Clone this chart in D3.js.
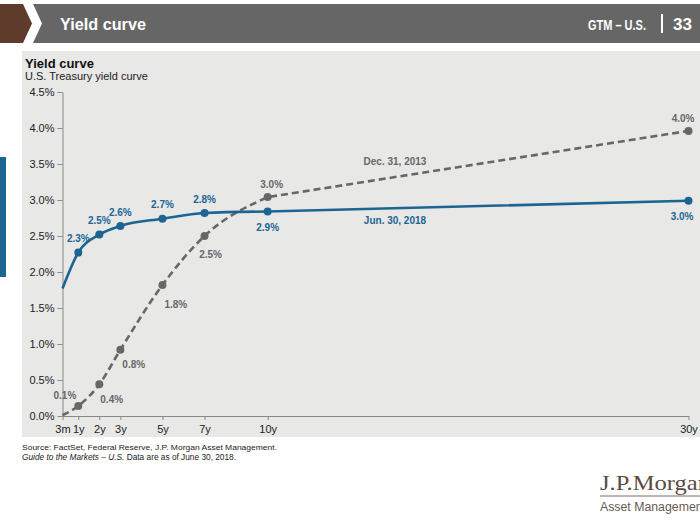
<!DOCTYPE html>
<html><head><meta charset="utf-8">
<script src="https://cdn.jsdelivr.net/npm/d3@7"></script>
<style>
html,body{margin:0;padding:0;background:#fff;}
svg{display:block;font-family:Arial,"Liberation Sans",sans-serif;}
</style></head>
<body><svg id="c" width="700" height="525"></svg>
<script>
const maturities = [0.25, 1, 2, 3, 5, 7, 10, 30];
const tickLabels = ["3m", "1y", "2y", "3y", "5y", "7y", "10y", "30y"];
const yTicks = [0, 0.5, 1.0, 1.5, 2.0, 2.5, 3.0, 3.5, 4.0, 4.5];
const jun2018 = [1.77, 2.27, 2.52, 2.64, 2.74, 2.82, 2.84, 2.99];
const jun2018Labels = [null, "2.3%", "2.5%", "2.6%", "2.7%", "2.8%", "2.9%", "3.0%"];
const dec2013 = [0.01, 0.14, 0.44, 0.92, 1.82, 2.50, 3.04, 3.96];
const dec2013Labels = [null, "0.1%", "0.4%", "0.8%", "1.8%", "2.5%", "3.0%", "4.0%"];

const svg = d3.select("#c");
const BLUE = "#1c6592", GRAY = "#676767";

// header
svg.append("rect").attr("x",0).attr("y",0).attr("width",700).attr("height",525).attr("fill","#fff");
svg.append("path").attr("d","M0,4 L23,4 L32,23.5 L23,43 L0,43 Z").attr("fill","#5e3b2b");
svg.append("path").attr("d","M33,4 L700,4 L700,43 L33,43 L42,23.5 Z").attr("fill","#666666");
svg.append("text").attr("x",60).attr("y",29.5).attr("fill","#fff")
  .attr("font-size",17).attr("font-weight","bold")
  .attr("textLength",86).attr("lengthAdjust","spacingAndGlyphs").text("Yield curve");
svg.append("text").attr("x",588).attr("y",29.5).attr("fill","#fff")
  .attr("font-size",14).attr("font-weight","bold")
  .attr("textLength",58).attr("lengthAdjust","spacingAndGlyphs").text("GTM \u2013 U.S.");
svg.append("rect").attr("x",661).attr("y",14).attr("width",2).attr("height",19).attr("fill","#fff");
svg.append("text").attr("x",692).attr("y",29.5).attr("fill","#fff").attr("text-anchor","end")
  .attr("font-size",17).attr("font-weight","bold")
  .attr("textLength",19).attr("lengthAdjust","spacingAndGlyphs").text("33");

// panel
svg.append("rect").attr("x",22).attr("y",51).attr("width",678).attr("height",386).attr("fill","#e8e8e7");
svg.append("rect").attr("x",0).attr("y",157).attr("width",6).attr("height",120).attr("fill","#1c6592");
svg.append("text").attr("x",25).attr("y",68).attr("font-size",13).attr("font-weight","bold").attr("fill","#111").text("Yield curve");
svg.append("text").attr("x",25).attr("y",80).attr("font-size",11).attr("fill","#222").text("U.S. Treasury yield curve");

const x = d3.scaleLinear().domain([0.25, 30]).range([62.5, 688.5]);
const y = d3.scaleLinear().domain([0, 4.5]).range([416, 92]);

// axes
const yAxis = d3.axisLeft(y).tickValues(yTicks).tickFormat(d => d.toFixed(1) + "%").tickSize(5).tickSizeOuter(0);
const gy = svg.append("g").attr("transform","translate(62.5,0)").call(yAxis);
gy.selectAll("text").attr("font-size",11).attr("fill","#222").attr("font-family","Arial,'Liberation Sans',sans-serif").attr("x",-8);
gy.selectAll("line").attr("stroke","#888");
gy.select(".domain").attr("stroke","#888");

const xAxis = d3.axisBottom(x).tickValues(maturities).tickFormat((d,i) => tickLabels[i]).tickSize(4).tickSizeOuter(0);
const gx = svg.append("g").attr("transform","translate(0,416)").call(xAxis);
gx.selectAll("text").attr("font-size",11).attr("fill","#222").attr("font-family","Arial,'Liberation Sans',sans-serif").attr("dy","0.9em");
gx.selectAll("line").attr("stroke","#888");
gx.select(".domain").attr("stroke","#888");

// lines: smooth up to 10y, straight from 10y to 30y
const idx = maturities.map((m,i)=>i);
const smooth = d3.line().x(i => x(maturities[i])).curve(d3.curveMonotoneX);
const straight = d3.line().x(i => x(maturities[i]));
function drawSeries(vals, col, dash){
  const s = smooth.y(i => y(vals[i]))(idx.slice(0, 7));
  const t = straight.y(i => y(vals[i]))(idx.slice(6));
  svg.append("path").attr("d", s + "L" + t.slice(1).split("L")[1])
    .attr("fill","none").attr("stroke",col).attr("stroke-width",2.6)
    .attr("stroke-dasharray", dash);
}
drawSeries(dec2013, GRAY, "7,4");
drawSeries(jun2018, BLUE, null);

// markers
svg.selectAll(".mg").data(dec2013.slice(1)).enter().append("circle")
  .attr("cx",(d,i)=>x(maturities[i+1])).attr("cy",d=>y(d)).attr("r",4).attr("fill",GRAY);
svg.selectAll(".mb").data(jun2018.slice(1)).enter().append("circle")
  .attr("cx",(d,i)=>x(maturities[i+1])).attr("cy",d=>y(d)).attr("r",4).attr("fill",BLUE);

// data labels: offsets [dx, dy, anchor]
const blueOff = [null,[0,-13,"middle"],[0,-13,"middle"],[0,-13,"middle"],[0,-13,"middle"],[0,-13,"middle"],[0,17,"middle"],[5,17,"end"]];
const grayOff = [null,[-2,-10,"end"],[1,16,"start"],[2,16,"start"],[2,20,"start"],[6,19,"middle"],[4,-12,"middle"],[6,-12,"end"]];
function labels(vals, labs, offs, col){
  vals.forEach((v,i)=>{
    if(!labs[i]) return;
    const o = offs[i];
    svg.append("text").attr("x", x(maturities[i]) + o[0]).attr("y", y(v) + o[1])
      .attr("text-anchor", o[2]).attr("dominant-baseline","middle")
      .attr("font-size",10).attr("font-weight","bold").attr("fill",col).text(labs[i]);
  });
}
labels(jun2018, jun2018Labels, blueOff, BLUE);
labels(dec2013, dec2013Labels, grayOff, GRAY);

svg.append("text").attr("x",395).attr("y",165).attr("text-anchor","middle").attr("font-size",10)
  .attr("font-weight","bold").attr("fill",GRAY).text("Dec. 31, 2013");
svg.append("text").attr("x",395).attr("y",224).attr("text-anchor","middle").attr("font-size",10)
  .attr("font-weight","bold").attr("fill",BLUE).text("Jun. 30, 2018");

// footer
svg.append("text").attr("x",22).attr("y",450).attr("font-size",8).attr("fill","#222")
  .attr("textLength",255).attr("lengthAdjust","spacingAndGlyphs")
  .text("Source: FactSet, Federal Reserve, J.P. Morgan Asset Management.");
const f2 = svg.append("text").attr("x",22).attr("y",460).attr("font-size",8.3).attr("fill","#222");
f2.append("tspan").attr("font-style","italic").text("Guide to the Markets \u2013 U.S.");
f2.append("tspan").text(" Data are as of June 30, 2018.");

// logo
svg.append("text").attr("x",600).attr("y",490).attr("font-family","'Liberation Serif','DejaVu Serif',serif")
  .attr("font-size",21).attr("fill","#5b4a3f").attr("textLength",110).attr("lengthAdjust","spacingAndGlyphs").text("J.P.Morgan");
svg.append("line").attr("x1",600).attr("x2",700).attr("y1",496).attr("y2",496).attr("stroke","#5b4a3f").attr("stroke-width",0.8);
svg.append("text").attr("x",600).attr("y",511).attr("font-size",12.5).attr("fill","#6a5a50")
  .attr("textLength",106).attr("lengthAdjust","spacingAndGlyphs").text("Asset Management");
</script></body></html>
